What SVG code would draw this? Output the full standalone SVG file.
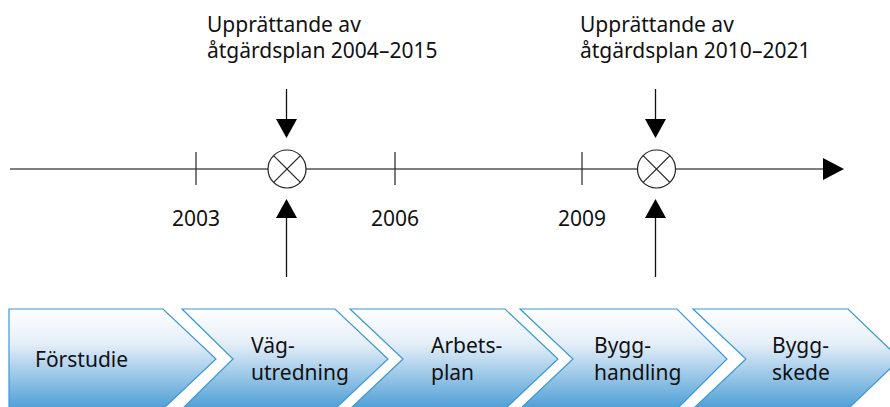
<svg xmlns="http://www.w3.org/2000/svg" width="890" height="407" viewBox="0 0 890 407">
<defs>
<linearGradient id="g" x1="0" y1="0" x2="0" y2="1">
<stop offset="0" stop-color="#ffffff"/>
<stop offset="0.35" stop-color="#e4eef8"/>
<stop offset="1" stop-color="#4d9ed6"/>
</linearGradient>
</defs>
<style>
text{font-family:"Noto Sans","Open Sans",sans-serif;font-size:21px;fill:#111}
.ax{stroke:#555;stroke-width:1.5;fill:none}
.tk{stroke:#333;stroke-width:1.3}
.ar{stroke:#111;stroke-width:1.3}
.hd{fill:#000}
.ch{fill:url(#g);stroke:#3a98d4;stroke-width:1.2}
.ci{fill:#fff;stroke:#222;stroke-width:1.2}
</style>
<g id="connectors">
<line class="ax" x1="10" y1="169" x2="826" y2="169"/>
<polygon class="hd" points="823,158 844,169 823,180"/>
<line class="ar" x1="286.5" y1="89" x2="286.5" y2="120"/>
<polygon class="hd" points="276,119 297,119 286.5,138"/>
<line class="ar" x1="286.5" y1="217" x2="286.5" y2="277"/>
<polygon class="hd" points="276,218 297,218 286.5,199"/>
<line class="ar" x1="655.5" y1="89" x2="655.5" y2="120"/>
<polygon class="hd" points="645,119 666,119 655.5,138"/>
<line class="ar" x1="655.5" y1="217" x2="655.5" y2="277"/>
<polygon class="hd" points="645,218 666,218 655.5,199"/>
</g>
<g id="ticks">
<line class="tk" x1="196" y1="152" x2="196" y2="185"/>
<line class="tk" x1="395" y1="152" x2="395" y2="185"/>
<line class="tk" x1="582" y1="152" x2="582" y2="185"/>
<text x="172" y="226">2003</text>
<text x="371" y="226">2006</text>
<text x="558" y="226">2009</text>
</g>
<g id="m1">
<circle class="ci" cx="287" cy="169" r="19"/>
<line class="ci" x1="273.6" y1="155.6" x2="300.4" y2="182.4"/>
<line class="ci" x1="273.6" y1="182.4" x2="300.4" y2="155.6"/>
<text x="207" y="32">Upprättande av</text>
<text x="207" y="58">åtgärdsplan 2004–2015</text>
</g>
<g id="m2">
<circle class="ci" cx="656.5" cy="169" r="19"/>
<line class="ci" x1="643.1" y1="155.6" x2="669.9" y2="182.4"/>
<line class="ci" x1="643.1" y1="182.4" x2="669.9" y2="155.6"/>
<text x="580" y="32">Upprättande av</text>
<text x="580" y="58">åtgärdsplan 2010–2021</text>
</g>
<g id="p1">
<polygon class="ch" points="9,309 163,309 216,359 163,409 9,409"/>
<text x="35" y="367">Förstudie</text>
</g>
<g id="p2">
<polygon class="ch" points="182,309 335,309 388,359 335,409 182,409 233,359"/>
<text x="251" y="353">Väg-</text>
<text x="251" y="380">utredning</text>
</g>
<g id="p3">
<polygon class="ch" points="350,309 505,309 558,359 505,409 350,409 403,359"/>
<text x="431" y="353">Arbets-</text>
<text x="431" y="380">plan</text>
</g>
<g id="p4">
<polygon class="ch" points="520,309 677,309 727,359 677,409 520,409 573,359"/>
<text x="594" y="353">Bygg-</text>
<text x="594" y="380">handling</text>
</g>
<g id="p5">
<polygon class="ch" points="693,309 848,309 900,359 848,409 693,409 746,359"/>
<text x="772" y="353">Bygg-</text>
<text x="772" y="380">skede</text>
</g>
</svg>
